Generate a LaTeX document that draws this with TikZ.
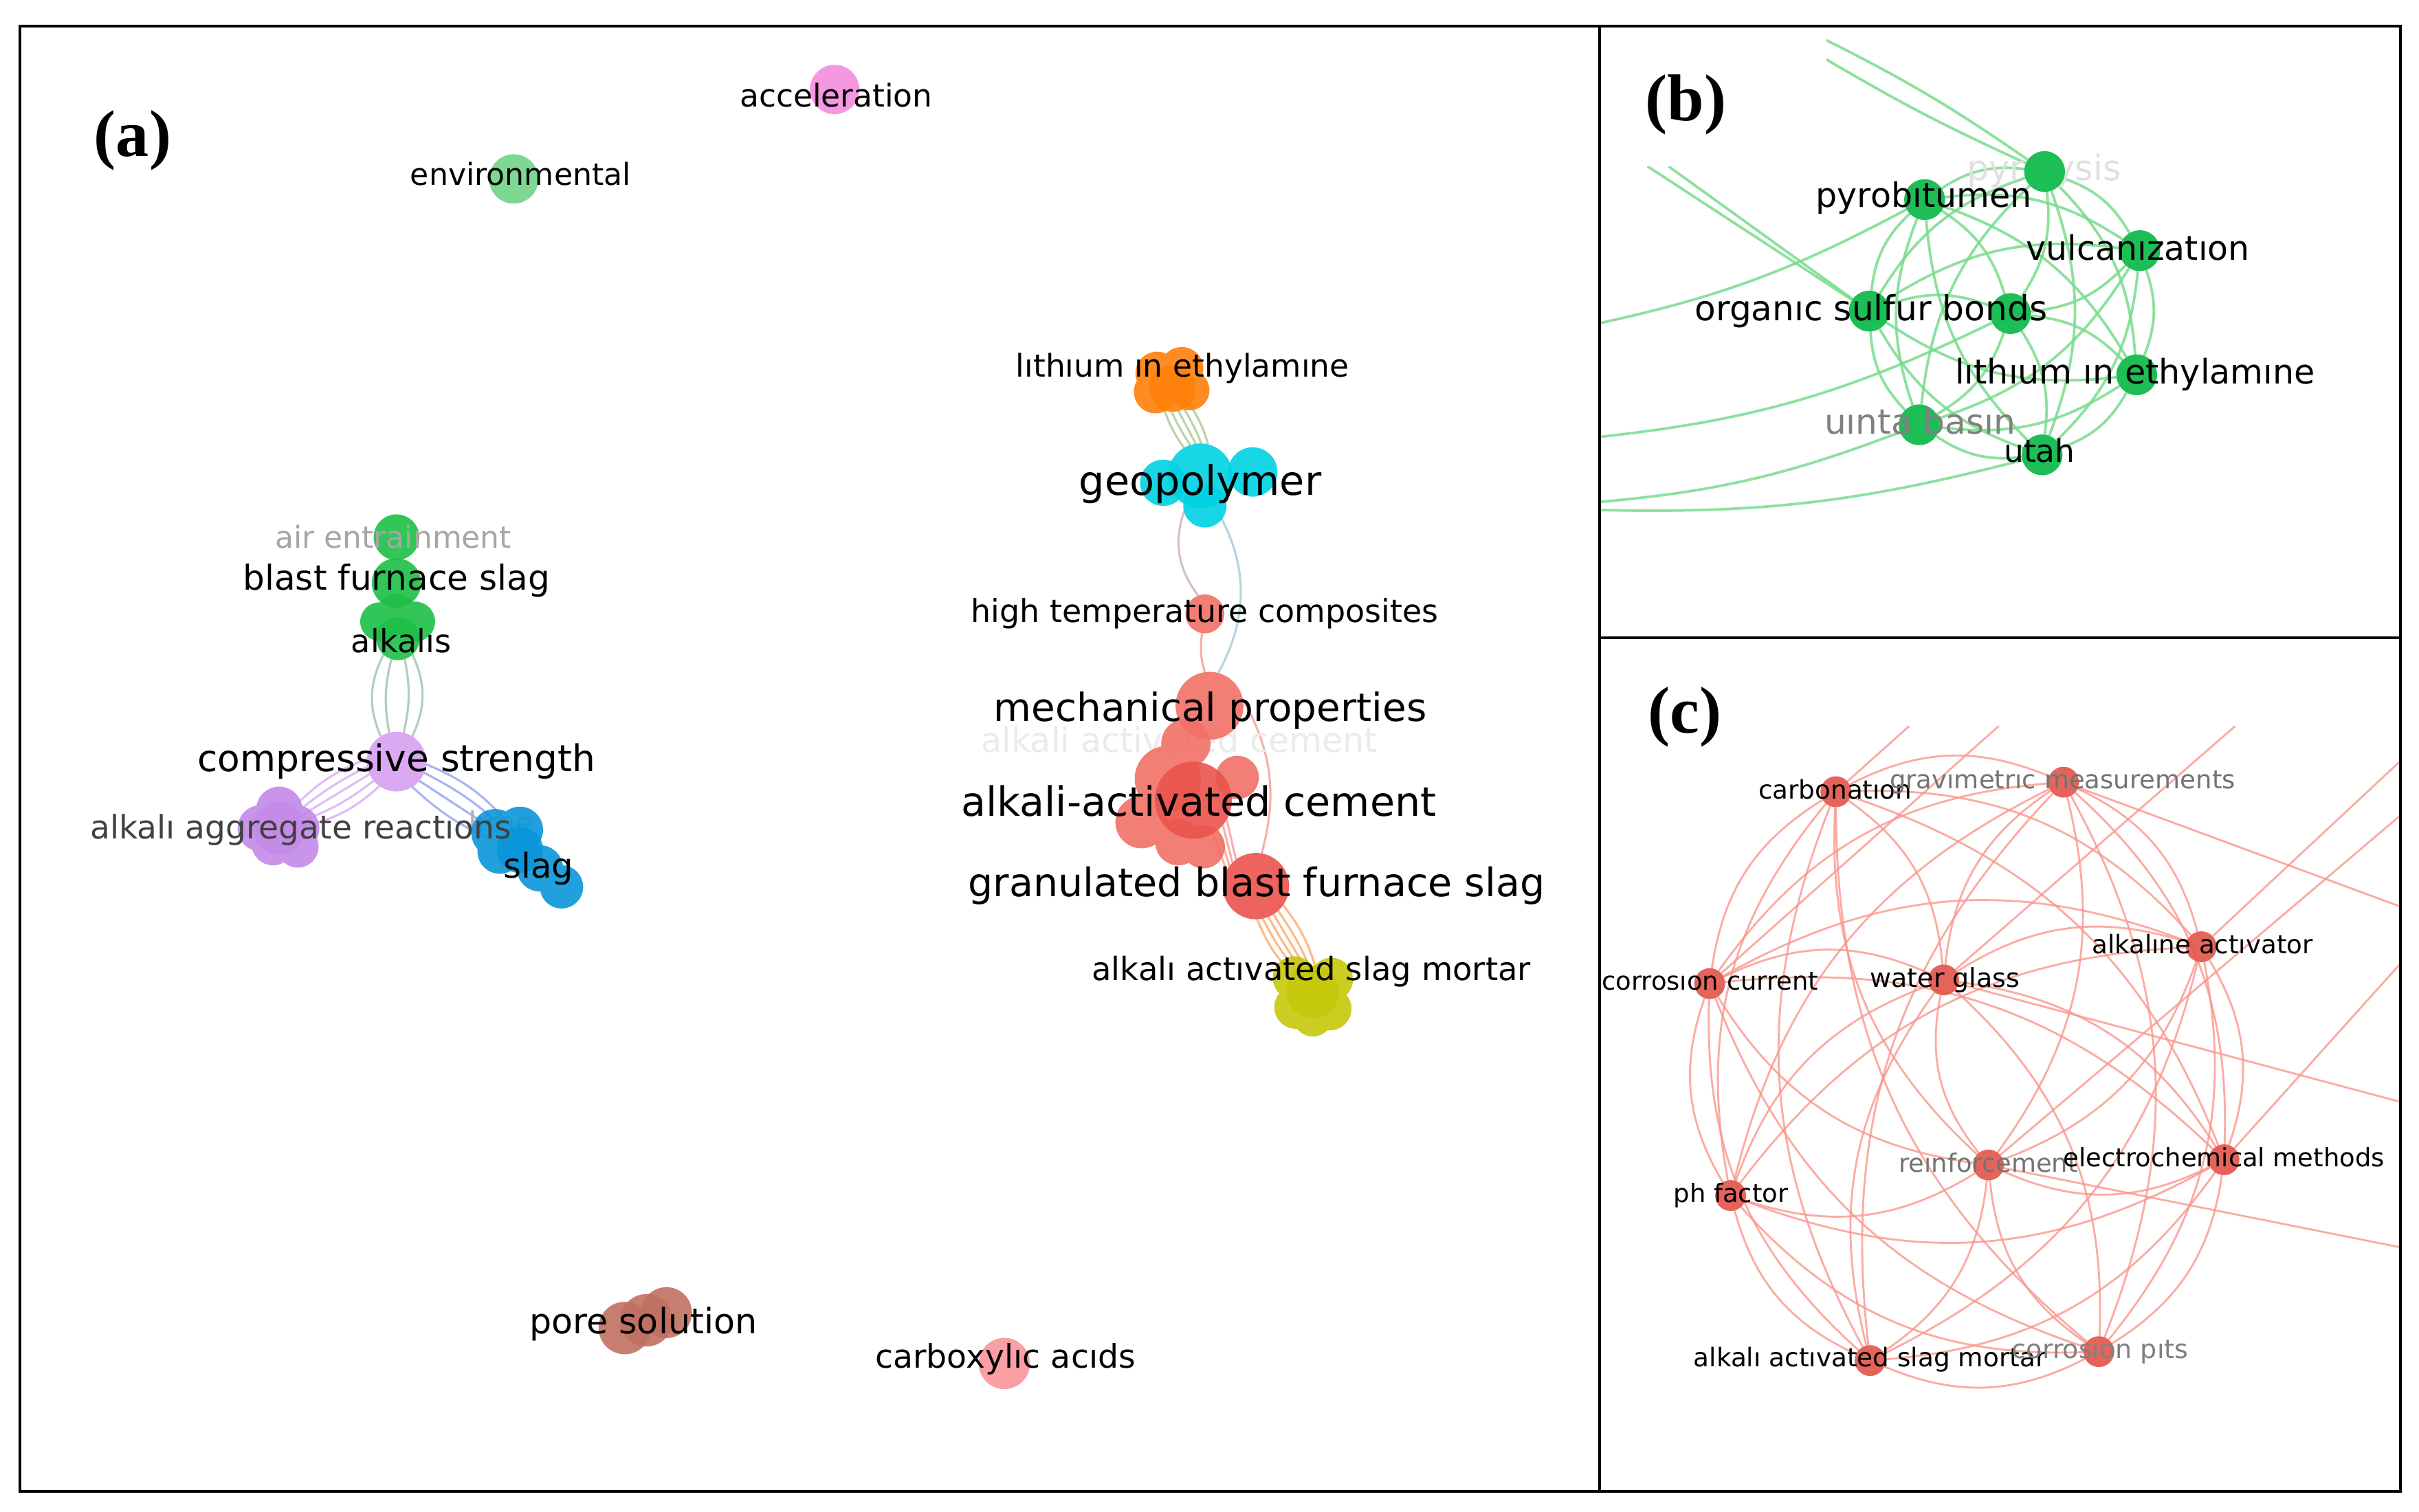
\documentclass[tikz,border=0pt]{standalone}
\usepackage{fontspec}
\setmainfont{DejaVu Sans}
\newfontfamily\panelfont{Liberation Serif}
\usepackage{graphicx}
\newdimen\wu
\wu=0.025cm
\newcommand\Lbl[2]{\resizebox{#1\wu}{!}{\vphantom{Xg}#2}}
\pgfdeclarelayer{edges}
\pgfdeclarelayer{cover}
\pgfsetlayers{edges,cover,main}
\definecolor{cPink}{RGB}{244,140,222}
\definecolor{cEnv}{RGB}{112,212,135}
\definecolor{cOrange}{RGB}{255,128,10}
\definecolor{cCyan}{RGB}{0,210,228}
\definecolor{cRed}{RGB}{234,84,76}
\definecolor{cRedL}{RGB}{242,112,104}
\definecolor{cYel}{RGB}{198,200,10}
\definecolor{cGreen}{RGB}{28,192,70}
\definecolor{cViol}{RGB}{214,160,240}
\definecolor{cViolD}{RGB}{196,138,232}
\definecolor{cBlue}{RGB}{10,150,218}
\definecolor{cBrown}{RGB}{192,112,98}
\definecolor{cCarb}{RGB}{250,150,155}
\definecolor{cBnode}{RGB}{28,190,85}
\definecolor{cBedge}{RGB}{120,220,140}
\definecolor{cCnode}{RGB}{226,84,74}
\definecolor{cCedge}{RGB}{250,150,140}
\definecolor{cLG}{RGB}{170,195,140}
\definecolor{cGR}{RGB}{200,170,175}
\definecolor{cGB}{RGB}{160,200,212}
\definecolor{cRE}{RGB}{245,150,145}
\definecolor{cOR}{RGB}{250,165,100}
\definecolor{cGV}{RGB}{150,190,175}
\definecolor{cVL}{RGB}{215,165,245}
\definecolor{cBV}{RGB}{140,155,240}
\begin{document}
\begin{tikzpicture}[x=0.025cm,y=-0.025cm,
  lbl/.style={inner sep=0pt,outer sep=0pt,text=black},
  blob/.style={circle,inner sep=0pt,outer sep=0pt,draw=none,fill=#1,fill opacity=0.9},
  ea/.style={line width=1pt,draw opacity=0.75},
  bedge/.style={draw=cBedge,line width=1.2pt,draw opacity=0.85},
  cedge/.style={draw=cCedge,line width=0.9pt,draw opacity=0.8},
  bnode/.style={circle,inner sep=0pt,outer sep=0pt,fill=cBnode,minimum size=0.66cm},
  cnode/.style={circle,inner sep=0pt,outer sep=0pt,fill=cCnode,fill opacity=0.9,minimum size=0.5cm},
  panel/.style={font=\panelfont\bfseries\fontsize{30.5}{34}\selectfont,inner sep=0pt}]
\useasboundingbox (0,0) rectangle (1568,980);
\begin{pgfonlayer}{edges}
\fill[white] (0,0) rectangle (1568,980);
\end{pgfonlayer}

% ---------- faded labels lying under the blobs ----------
\node[lbl,text=black!8] (laacf) at (764.5,481.7) {\Lbl{257}{alkali activated cement}};
\node[lbl,text=black!30] (llime) at (325,535) {\Lbl{43}{lıme}};
\node[lbl,text=black!12] (lpyl) at (1325,110.8) {\Lbl{100}{pyrolysis}};

% ---------- panel (a) blobs ----------
\node[blob=cPink,minimum size=0.8cm] (acc) at (541,58) {};
\node[blob=cEnv,minimum size=0.8cm] (env) at (333,116) {};
\fill[cOrange,fill opacity=0.9] (750,242) circle (14) (766,239) circle (14) (749,254) circle (14) (771,253) circle (13);
\node[blob=cOrange,minimum size=0.75cm] (lith) at (760,252) {};
\fill[cCyan,fill opacity=0.9] (754,313) circle (15) (812,306) circle (16) (781,328) circle (14);
\node[blob=cCyan,minimum size=1.05cm] (geo) at (778,308.5) {};
\node[blob=cRedL,minimum size=0.63cm] (htc) at (781,398) {};
\node[blob=cRedL,minimum size=1.1cm] (mech) at (784,457.6) {};
\fill[cRedL,fill opacity=0.9] (768.7,482) circle (16) (757,505) circle (21.5) (802,504) circle (14) (740,533) circle (17) (763.8,546) circle (15) (780,549) circle (14);
\node[blob=cRed,minimum size=1.25cm] (aac) at (773.5,518.8) {};
\node[blob=cRed,minimum size=1.075cm] (gbfs) at (814.1,574.5) {};
\fill[cYel,fill opacity=0.9] (839,634) circle (14) (863,635) circle (14) (840,653) circle (14) (862,654) circle (14) (851,659) circle (13);
\node[blob=cYel,minimum size=0.85cm] (aasm) at (851,643) {};
\node[blob=cGreen,minimum size=0.74cm] (air) at (257,348.3) {};
\node[blob=cGreen,minimum size=0.8cm] (bfs) at (257,377.9) {};
\fill[cGreen,fill opacity=0.9] (246,403) circle (12.5) (269,403) circle (13) (257,398) circle (13);
\node[blob=cGreen,minimum size=0.7cm] (alks) at (258,414) {};
\node[blob=cViol,minimum size=0.965cm] (cs) at (257,493.8) {};
\fill[cViolD,fill opacity=0.9] (181,525) circle (15) (169,537) circle (15) (192,537) circle (15) (177,547) circle (14) (193,549) circle (13.5);
\node[blob=cViolD,minimum size=0.85cm] (aar) at (181,537) {};
\fill[cBlue,fill opacity=0.9] (321,540) circle (15.5) (337,538) circle (15) (324,552) circle (14.5) (350,563) circle (15) (364,575) circle (14);
\node[blob=cBlue,minimum size=0.75cm] (slag) at (337,551) {};
\fill[cBrown,fill opacity=0.9] (405,861) circle (17) (432,851) circle (16.5);
\node[blob=cBrown,minimum size=0.85cm] (pore) at (419,856) {};
\node[blob=cCarb,minimum size=0.83cm] (carb) at (651,884) {};

% ---------- panel (a) labels ----------
\node[lbl] (lacc) at (542,63.5) {\Lbl{125}{acceleration}};
\node[lbl] (lenv) at (337.5,114.5) {\Lbl{143}{environmental}};
\node[lbl] (llith) at (766.5,239) {\Lbl{216}{lıthıum ın ethylamıne}};
\node[lbl] (lgeo) at (778,314) {\Lbl{157}{geopolymer}};
\node[lbl] (lhtc) at (781,398) {\Lbl{303}{high temperature composites}};
\node[lbl] (lmech) at (784.5,460.5) {\Lbl{280.5}{mechanical properties}};
\node[lbl] (laac) at (777,521.8) {\Lbl{308}{alkali-activated cement}};
\node[lbl] (lgbfs) at (814.5,574.4) {\Lbl{374}{granulated blast furnace slag}};
\node[lbl] (laasm) at (850,630) {\Lbl{284.5}{alkalı actıvated slag mortar}};
\node[lbl,text=black!35] (lair) at (255,350.1) {\Lbl{153}{air entrainment}};
\node[lbl] (lbfs) at (257,376.3) {\Lbl{199}{blast furnace slag}};
\node[lbl] (lalks) at (260,417.6) {\Lbl{64.7}{alkalıs}};
\node[lbl] (lcs) at (257,493.8) {\Lbl{257.8}{compressive strength}};
\node[lbl,text=black!75] (laar) at (195,538.2) {\Lbl{272.9}{alkalı aggregate reactıons}};
\node[lbl] (lslag) at (349,563.2) {\Lbl{45.5}{slag}};
\node[lbl] (lpore) at (417,858.6) {\Lbl{147.6}{pore solution}};
\node[lbl] (lcarb) at (651.7,880.9) {\Lbl{168.7}{carboxylıc acıds}};

% ---------- panel (b) nodes ----------
\node[bnode] (pyl) at (1325.3,111.2) {};
\node[bnode] (pyb) at (1247.5,129.4) {};
\node[bnode] (vul) at (1387,162.5) {};
\node[bnode] (osb) at (1211.6,201.7) {};
\node[bnode] (bnd) at (1303.2,203.3) {};
\node[bnode] (lie) at (1385,243) {};
\node[bnode] (uin) at (1244,275.4) {};
\node[bnode] (uta) at (1323.7,294.9) {};
\node[lbl] (lpyb) at (1247,128.3) {\Lbl{139.8}{pyrobıtumen}};
\node[lbl] (losb) at (1212.8,201.7) {\Lbl{228.4}{organıc sulfur bonds}};
\node[lbl] (lvul) at (1385.8,162.5) {\Lbl{144.8}{vulcanızatıon}};
\node[lbl] (llie) at (1384,243) {\Lbl{233.4}{lıthıum ın ethylamıne}};
\node[lbl,text=black!50] (luin) at (1244.6,275) {\Lbl{124}{uınta basın}};
\node[lbl] (luta) at (1322,294) {\Lbl{46}{utah}};

% ---------- panel (c) nodes ----------
\node[cnode] (car) at (1190,513.3) {};
\node[cnode] (grv) at (1337.6,507.1) {};
\node[cnode] (coc) at (1108.2,637.7) {};
\node[cnode] (wgl) at (1259.9,635.3) {};
\node[cnode] (alk) at (1426.9,613.8) {};
\node[cnode] (rei) at (1288.9,755.3) {};
\node[cnode] (ele) at (1441.6,751.9) {};
\node[cnode] (phf) at (1121.8,775.1) {};
\node[cnode] (asm) at (1212.2,882.1) {};
\node[cnode] (cpi) at (1360.5,876.3) {};
\node[lbl] (lcar) at (1189.6,513.3) {\Lbl{99.5}{carbonatıon}};
\node[lbl,text=black!55] (lgrv) at (1337,507.1) {\Lbl{224}{gravımetrıc measurements}};
\node[lbl] (lcoc) at (1108.5,637.7) {\Lbl{140.4}{corrosıon current}};
\node[lbl] (lwgl) at (1260.7,635.3) {\Lbl{97}{water glass}};
\node[lbl] (lalk) at (1427.6,613.8) {\Lbl{143.2}{alkalıne actıvator}};
\node[lbl,text=black!55] (lrei) at (1288.9,755.3) {\Lbl{116}{reınforcement}};
\node[lbl] (lele) at (1441.6,751.9) {\Lbl{208}{electrochemical methods}};
\node[lbl] (lphf) at (1122,775.1) {\Lbl{74.3}{ph factor}};
\node[lbl] (lasm) at (1212,881.4) {\Lbl{228.4}{alkalı actıvated slag mortar}};
\node[lbl,text=black!50] (lcpi) at (1361.3,876.3) {\Lbl{114.2}{corrosıon pıts}};

% free ends of edges that leave panels (b) and (c)
\coordinate (bt1) at (1183.8,26);
\coordinate (bt2) at (1183.8,38.5);
\coordinate (bl1) at (1067.9,107.8);
\coordinate (bl2) at (1081.5,107.8);
\coordinate (bw1) at (1030,211);
\coordinate (bw2) at (1030,284);
\coordinate (bw3) at (1030,326);
\coordinate (bw4) at (1030,330.5);
\coordinate (ct1) at (1237.7,470.6);
\coordinate (ct2) at (1295.7,470.6);
\coordinate (ct3) at (1449,470.6);
\coordinate (cr1) at (1562,487.7);
\coordinate (cr2) at (1562,523.5);
\coordinate (cr3) at (1562,590);
\coordinate (cr4) at (1562,618);
\coordinate (cr5) at (1562,716);
\coordinate (cr6) at (1562,809.9);

% ---------- edges ----------
\begin{pgfonlayer}{edges}
% panel (a)
\draw[ea,draw=cLG] (lith.250) to[bend right=8] (geo.120);
\draw[ea,draw=cLG] (lith.268) to[bend right=4] (geo.108);
\draw[ea,draw=cLG] (lith.285) to (geo.98);
\draw[ea,draw=cLG] (lith.300) to[bend left=4] (geo.88);
\draw[ea,draw=cLG] (lith.318) to[bend left=8] (geo.76);
\draw[ea,draw=cGR] (geo.245) to[bend right=30] (htc.110);
\draw[ea,draw=cGB] (geo.295) to[bend left=30] (mech.75);
\draw[ea,draw=cRE] (htc.262) to[bend right=12] (mech.98);
\draw[ea,draw=cRE] (mech.12) to[bend left=22] (gbfs.80);
\draw[ea,draw=cRE] (aac.300) to (gbfs.152);
\draw[ea,draw=cRE] (aac.310) to (gbfs.143);
\draw[ea,draw=cRE] (aac.320) to (gbfs.135);
\draw[ea,draw=cRE] (aac.330) to (gbfs.127);
\draw[ea,draw=cOR] (gbfs.272) to[bend right=10] (aasm.140);
\draw[ea,draw=cOR] (gbfs.282) to[bend right=6] (aasm.128);
\draw[ea,draw=cOR] (gbfs.292) to[bend right=3] (aasm.118);
\draw[ea,draw=cOR] (gbfs.302) to (aasm.108);
\draw[ea,draw=cOR] (gbfs.312) to[bend left=5] (aasm.98);
\draw[ea,draw=cOR] (gbfs.325) to[bend left=10] (aasm.85);
\draw[ea,draw=cGV] (alks.228) to[bend right=25] (cs.122);
\draw[ea,draw=cGV] (alks.252) to[bend right=12] (cs.104);
\draw[ea,draw=cGV] (alks.288) to[bend left=12] (cs.76);
\draw[ea,draw=cGV] (alks.312) to[bend left=25] (cs.58);
\draw[ea,draw=cVL] (cs.175) to[bend right=12] (aar.55);
\draw[ea,draw=cVL] (cs.190) to[bend right=6] (aar.42);
\draw[ea,draw=cVL] (cs.205) to (aar.30);
\draw[ea,draw=cVL] (cs.220) to[bend left=8] (aar.18);
\draw[ea,draw=cVL] (cs.235) to[bend left=14] (aar.5);
\draw[ea,draw=cBV] (cs.355) to[bend left=14] (slag.110);
\draw[ea,draw=cBV] (cs.338) to[bend left=8] (slag.125);
\draw[ea,draw=cBV] (cs.320) to (slag.140);
\draw[ea,draw=cBV] (cs.302) to[bend right=10] (slag.160);
% panel (b)
\begin{scope}
\clip (1037,17) rectangle (1556,413.5);
\foreach \a/\b in {pyb/pyl,pyl/vul,osb/pyl,pyl/bnd,pyl/lie,uin/pyl,pyl/uta,
  pyb/vul,osb/pyb,pyb/bnd,pyb/lie,uin/pyb,uta/pyb,
  osb/vul,vul/bnd,vul/lie,vul/uin,vul/uta,
  osb/bnd,lie/osb,uin/osb,uta/osb,
  bnd/lie,bnd/uin,bnd/uta,lie/uin,lie/uta,uta/uin}
  \draw[bedge] (\a) to[bend left=20] (\b);
\draw[bedge] (bt1) to[bend left=4] (pyl);
\draw[bedge] (bt2) to[bend right=3] (pyl);
\draw[bedge] (bl1) -- (osb);
\draw[bedge] (bl2) -- (osb);
\draw[bedge] (bw1) to[bend right=8] (pyb);
\draw[bedge] (bw2) to[bend right=10] (bnd);
\draw[bedge] (bw3) to[bend right=8] (uin);
\draw[bedge] (bw4) to[bend right=8] (uta);
\end{scope}
% panel (c)
\begin{scope}
\clip (1037,413.5) rectangle (1556,967);
\foreach \a/\b in {car/grv,coc/car,car/wgl,car/alk,rei/car,car/ele,phf/car,asm/car,cpi/car,
  coc/grv,wgl/grv,grv/alk,grv/rei,grv/ele,phf/grv,asm/grv,grv/cpi,
  coc/wgl,coc/alk,rei/coc,coc/ele,phf/coc,asm/coc,cpi/coc,
  wgl/alk,rei/wgl,wgl/ele,phf/wgl,asm/wgl,wgl/cpi,
  alk/rei,alk/ele,phf/alk,alk/asm,alk/cpi,
  ele/rei,rei/phf,rei/asm,cpi/rei,
  ele/phf,ele/asm,ele/cpi,asm/phf,cpi/phf,cpi/asm}
  \draw[cedge] (\a) to[bend left=25] (\b);
\draw[cedge] (ct1) -- (car);
\draw[cedge] (ct2) -- (coc);
\draw[cedge] (ct3) -- (wgl);
\draw[cedge] (cr1) -- (alk);
\draw[cedge] (cr2) -- (rei);
\draw[cedge] (cr3) -- (grv);
\draw[cedge] (cr4) -- (ele);
\draw[cedge] (cr5) -- (wgl);
\draw[cedge] (cr6) -- (rei);
\end{scope}
\end{pgfonlayer}

% white boxes behind the panel letters
\begin{pgfonlayer}{cover}
\fill[white] (1037,17) rectangle (1183.8,107.8);
\fill[white] (1037,413.5) rectangle (1449,470.6);
\end{pgfonlayer}

% ---------- panel letters ----------
\node[panel] (pa) at (86,91) {(a)};
\node[panel] (pb) at (1092.8,68) {(b)};
\node[panel] (pc) at (1092.2,464.7) {(c)};

% ---------- frame ----------
\draw[line width=1.3pt] (13,17) rectangle (1556,967);
\draw[line width=1.3pt] (1037,17) -- (1037,967);
\draw[line width=1.3pt] (1037,413.5) -- (1556,413.5);
\end{tikzpicture}
\end{document}
